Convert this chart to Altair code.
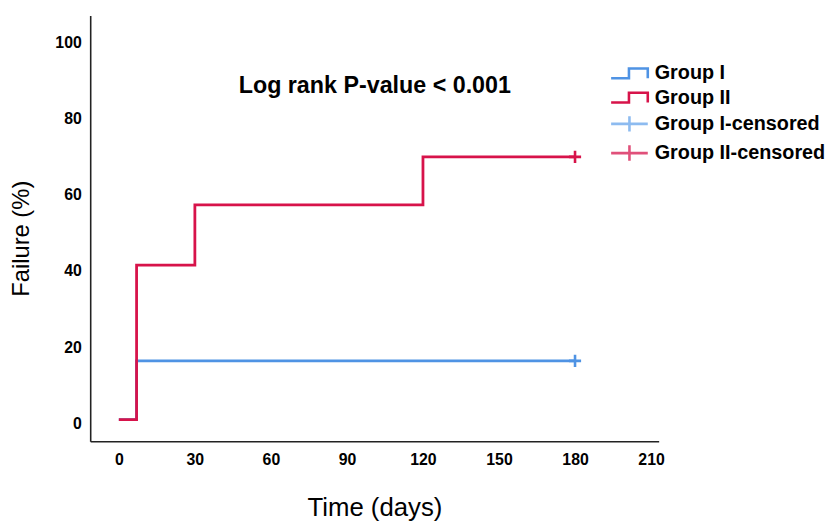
import altair as alt
import pandas as pd

# ---- data ----
g1_time = [0, 7, 180]
g1_fail = [0, 15.4, 15.4]
g2_time = [0, 7, 30, 120, 180]
g2_fail = [0, 40.5, 56.3, 68.9, 68.9]
cens_groups = ["Group I", "Group II"]
cens_time = [180, 180]
cens_fail = [15.4, 68.9]
legend_labels = ["Group I", "Group II", "Group I-censored", "Group II-censored"]
x_ticks = [0, 30, 60, 90, 120, 150, 180, 210]
y_ticks = [0, 20, 40, 60, 80, 100]
annotation = "Log rank P-value < 0.001"

BLUE = "#4F93E4"
RED = "#D7134A"
LBLUE = "#8DBBF0"
LRED = "#E0507A"
FONT = "Liberation Sans"

lines_df = pd.DataFrame({
    "time": g1_time + g2_time,
    "fail": g1_fail + g2_fail,
    "group": ["Group I"] * len(g1_time) + ["Group II"] * len(g2_time),
})
cens_df = pd.DataFrame({"time": cens_time, "fail": cens_fail, "group": cens_groups})
legend_df = pd.DataFrame({"series": legend_labels, "time": [180] * 4, "fail": [15.4] * 4})
ann_df = pd.DataFrame({"time": [101], "fail": [87.5], "label": [annotation]})

xscale = alt.Scale(domain=[-11.3, 213], nice=False, zero=False)
yscale = alt.Scale(domain=[-5.7, 106], nice=False, zero=False)

xaxis = alt.Axis(values=x_ticks, title="Time (days)", ticks=False, grid=False,
                 domainColor="#222222", domainWidth=1.6, labelFont=FONT,
                 labelFontSize=16, labelFontWeight="bold", labelColor="black",
                 labelPadding=10, labelFlush=False, labelOverlap=False,
                 titleFont=FONT, titleFontSize=26, titleFontWeight="normal",
                 titleColor="black", titleY=75, titleBaseline="alphabetic")
yaxis = alt.Axis(values=y_ticks, title="Failure (%)", ticks=False, grid=False,
                 domainColor="#222222", domainWidth=1.6, labelFont=FONT,
                 labelFontSize=16, labelFontWeight="bold", labelColor="black",
                 labelPadding=9, labelOffset=4, labelFlush=False, labelOverlap=False,
                 titleFont=FONT, titleFontSize=24, titleFontWeight="normal",
                 titleColor="black", titleX=-69, titleY=225, titleAngle=-90,
                 titleAlign="center", titleBaseline="middle")

lines = alt.Chart(lines_df).mark_line(interpolate="step-after", strokeWidth=2.8).encode(
    x=alt.X("time:Q", scale=xscale, axis=xaxis),
    y=alt.Y("fail:Q", scale=yscale, axis=yaxis),
    color=alt.Color("group:N", scale=alt.Scale(domain=cens_groups, range=[BLUE, RED]), legend=None),
    order=alt.Order("time:Q"),
)

cens = alt.Chart(cens_df).mark_point(shape="M-1,0H1M0,-1V1", size=150, filled=False,
                                     strokeWidth=2.6, opacity=1).encode(
    x=alt.X("time:Q", scale=xscale),
    y=alt.Y("fail:Q", scale=yscale),
    color=alt.Color("group:N", scale=alt.Scale(domain=cens_groups, range=[BLUE, RED]), legend=None),
)

# symbol size 400 -> unit radius 10px; paths extend to +/-1.85 (37px wide)
step_path = "M-1.85,0.5H-0.05V-0.5H1.85V0.5"
cross_path = "M-1.85,0H1.85M0,-0.78V0.78"

leg = alt.Legend(orient="none", legendX=533, legendY=47, title=None,
                 labelFont=FONT, labelFontSize=20, labelFontWeight="bold",
                 labelColor="black", labelLimit=400, symbolSize=400, symbolStrokeWidth=2.6,
                 symbolOpacity=1, rowPadding=2.5, labelOffset=14, padding=0,
                 symbolFillColor="transparent")

legend_layer = alt.Chart(legend_df).mark_point(filled=False, opacity=0).encode(
    x=alt.X("time:Q", scale=xscale),
    y=alt.Y("fail:Q", scale=yscale),
    color=alt.Color("series:N",
                    scale=alt.Scale(domain=legend_labels, range=[BLUE, RED, LBLUE, LRED]),
                    legend=leg),
    shape=alt.Shape("series:N",
                    scale=alt.Scale(domain=legend_labels,
                                    range=[step_path, step_path, cross_path, cross_path]),
                    legend=leg),
)

ann = alt.Chart(ann_df).mark_text(font=FONT, fontSize=23.5, fontWeight="bold", color="black",
                                  align="center", baseline="middle").encode(
    x=alt.X("time:Q", scale=xscale),
    y=alt.Y("fail:Q", scale=yscale),
    text="label:N",
)

chart = alt.layer(lines, cens, legend_layer, ann).resolve_scale(
    color="independent", shape="independent"
).properties(
    width=574, height=430,
    padding={"left": 83, "top": 5, "right": 173, "bottom": 80},
    autosize=alt.AutoSizeParams(type="none"),
    background="white",
).configure_view(strokeWidth=0, stroke=None)

chart.save("out.html", embed_options={"renderer": "svg", "actions": False})
